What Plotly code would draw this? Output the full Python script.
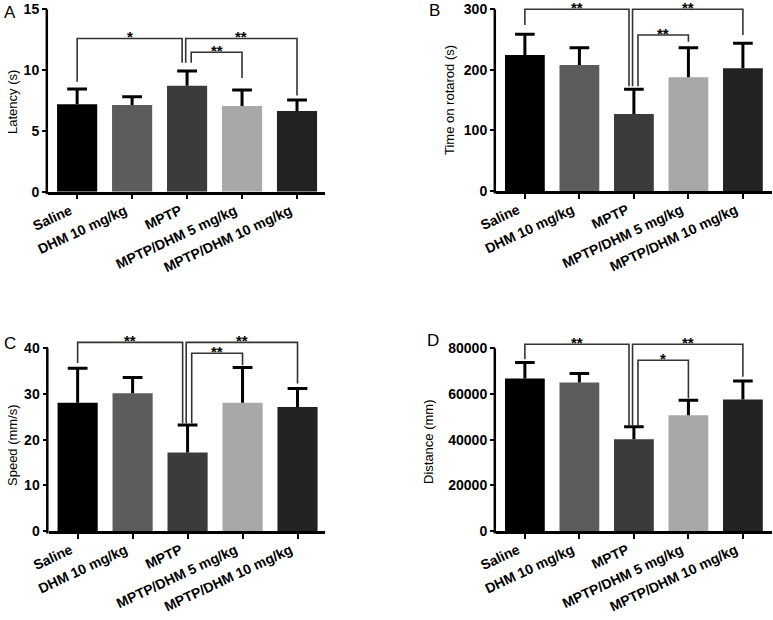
import plotly.graph_objects as go

# ---------------- data ----------------
groups = ["Saline", "DHM 10 mg/kg", "MPTP", "MPTP/DHM 5 mg/kg", "MPTP/DHM 10 mg/kg"]
bar_colors = ["#000000", "#5c5c5c", "#3b3b3b", "#a8a8a8", "#222222"]

latency_mean = [7.2, 7.13, 8.72, 7.05, 6.64]
latency_err = [1.25, 0.68, 1.21, 1.31, 0.9]
rotarod_mean = [224.5, 208, 127, 187.7, 202.5]
rotarod_err = [34.2, 28.6, 41, 48.9, 41.3]
speed_mean = [28.1, 30.15, 17.2, 28.1, 27.15]
speed_err = [7.5, 3.45, 6.0, 7.7, 4.05]
distance_mean = [66750, 65000, 40200, 50700, 57600]
distance_err = [7000, 4000, 5400, 6600, 8100]

# significance brackets: (left group, right group, height, label, left leg end, right leg end)
latency_sig = [(0, 2, 12.6, "*", 9.05, 10.6), (2, 4, 12.6, "**", 10.6, 7.9), (2, 3, 11.46, "**", 10.6, 9.35)]
rotarod_sig = [(0, 2, 300, "**", 274, 173), (2, 4, 300, "**", 173, 257.5), (2, 3, 257.5, "**", 173, 246.5)]
speed_sig = [(0, 2, 41.3, "**", 36.8, 23.6), (2, 4, 41.3, "**", 23.6, 32.3), (2, 3, 38.9, "**", 23.6, 36.3)]
distance_sig = [(0, 2, 81750, "**", 75200, 46300), (2, 4, 81750, "**", 46300, 67500), (2, 3, 74750, "*", 46300, 58100)]

latency_ticks = [0, 5, 10, 15]
rotarod_ticks = [0, 100, 200, 300]
speed_ticks = [0, 10, 20, 30, 40]
distance_ticks = [0, 20000, 40000, 60000, 80000]

titles = ["Latency (s)", "Time on rotarod (s)", "Speed (mm/s)", "Distance (mm)"]
letters = ["A", "B", "C", "D"]

# ---------------- layout geometry (pixels) ----------------
W, H = 773, 620
FONT = "Liberation Sans, Arial, Helvetica, sans-serif"

panels = [
    dict(mean=latency_mean, err=latency_err, sig=latency_sig, ticks=latency_ticks, ytop=15.4,
         px=(48, 324.5), py=(191.7, 4.4), xr=(-0.53, 4.5), title_xy=(12, 102), letter_xy=(10, 12)),
    dict(mean=rotarod_mean, err=rotarod_err, sig=rotarod_sig, ticks=rotarod_ticks, ytop=312,
         px=(496, 771.8), py=(191, 2.0), xr=(-0.53, 4.53), title_xy=(450, 100), letter_xy=(435, 11)),
    dict(mean=speed_mean, err=speed_err, sig=speed_sig, ticks=speed_ticks, ytop=44,
         px=(48.5, 325), py=(531, 330), xr=(-0.53, 4.5), title_xy=(12, 445), letter_xy=(10, 343)),
    dict(mean=distance_mean, err=distance_err, sig=distance_sig, ticks=distance_ticks, ytop=86000,
         px=(496, 771.8), py=(531, 334.6), xr=(-0.53, 4.53), title_xy=(428, 442), letter_xy=(433, 340)),
]

BAR_W = 0.73
CAP_HW = 0.18
LEG_SHIFT = [-0.09, -0.025, 0.075]  # offsets of bracket legs at the shared MPTP group

fig = go.Figure()
layout = dict(width=W, height=H, margin=dict(l=0, r=0, t=0, b=0),
              plot_bgcolor="white", paper_bgcolor="white", showlegend=False,
              font=dict(family=FONT, color="black"))
shapes, annotations = [], []

for k, p in enumerate(panels):
    sfx = "" if k == 0 else str(k + 1)
    xa, ya = "x" + sfx, "y" + sfx
    xdom = [p["px"][0] / W, p["px"][1] / W]
    ydom = [1 - p["py"][0] / H, 1 - p["py"][1] / H]
    xs = list(range(len(groups)))

    fig.add_trace(go.Bar(x=xs, y=p["mean"], width=BAR_W, marker=dict(color=bar_colors, line=dict(width=0)),
                         xaxis=xa, yaxis=ya, hoverinfo="skip"))

    # upper-only error bars
    ex, ey = [], []
    for i, (m, e) in enumerate(zip(p["mean"], p["err"])):
        ex += [i, i, None, i - CAP_HW, i + CAP_HW, None]
        ey += [m, m + e, None, m + e, m + e, None]
    fig.add_trace(go.Scatter(x=ex, y=ey, mode="lines", line=dict(color="black", width=3),
                             xaxis=xa, yaxis=ya, hoverinfo="skip"))

    # significance brackets
    bx, by = [], []
    for j, (a, b, h, lab, la, lb) in enumerate(p["sig"]):
        xa_leg = a + (LEG_SHIFT[j] if a == 2 else 0)
        xb_leg = b + (LEG_SHIFT[j] if b == 2 else 0)
        bx += [xa_leg, xa_leg, xb_leg, xb_leg, None]
        by += [la, h, h, lb, None]
        annotations.append(dict(x=(xa_leg + xb_leg) / 2, y=h, xref=xa, yref=ya, text="<b>" + lab + "</b>",
                                showarrow=False, yanchor="bottom", yshift=-9,
                                font=dict(size=15, family=FONT, color="black")))
    fig.add_trace(go.Scatter(x=bx, y=by, mode="lines", line=dict(color="#333333", width=1.6),
                             xaxis=xa, yaxis=ya, hoverinfo="skip"))

    layout["xaxis" + sfx] = dict(domain=xdom, range=list(p["xr"]), anchor=ya, tickmode="array",
                                 tickvals=xs, ticktext=["<b>" + g + "</b>" for g in groups],
                                 tickangle=-25, tickfont=dict(size=14, family=FONT, color="black"),
                                 ticklabelshift=-7, ticklabelstandoff=-2,
                                 ticks="outside", ticklen=5, tickwidth=2, tickcolor="black",
                                 showline=True, linewidth=2.5, linecolor="black",
                                 showgrid=False, zeroline=False, fixedrange=True, automargin=False)
    layout["yaxis" + sfx] = dict(domain=ydom, range=[0, p["ytop"]], anchor=xa, tickmode="array",
                                 tickvals=p["ticks"], ticktext=["<b>%d</b>" % t for t in p["ticks"]],
                                 tickfont=dict(size=14, family=FONT, color="black"),
                                 ticks="outside", ticklen=5, tickwidth=2, tickcolor="black",
                                 showline=False, showgrid=False, zeroline=False, fixedrange=True,
                                 automargin=False)

    # y axis line up to the last tick
    y0 = ydom[0]
    y1 = ydom[0] + (max(p["ticks"]) / p["ytop"]) * (ydom[1] - ydom[0])
    shapes.append(dict(type="line", xref="paper", yref="paper", x0=xdom[0] - 1.2 / W, x1=xdom[0] - 1.2 / W,
                       y0=y0 - 2.5 / H, y1=y1, line=dict(color="black", width=2.5)))

    # axis title and panel letter
    annotations.append(dict(x=p["title_xy"][0] / W, y=1 - p["title_xy"][1] / H, xref="paper", yref="paper",
                            text=titles[k], textangle=-90, showarrow=False, xanchor="center", yanchor="middle",
                            font=dict(size=13, family=FONT, color="black")))
    annotations.append(dict(x=p["letter_xy"][0] / W, y=1 - p["letter_xy"][1] / H, xref="paper", yref="paper",
                            text=letters[k], showarrow=False, xanchor="center", yanchor="middle",
                            font=dict(size=17, family=FONT, color="black")))

layout["shapes"] = shapes
layout["annotations"] = annotations
fig.update_layout(**layout)
fig.write_html("out.html", config={"displayModeBar": False},
               post_script="document.body.style.margin='0';document.body.style.overflow='hidden';")
